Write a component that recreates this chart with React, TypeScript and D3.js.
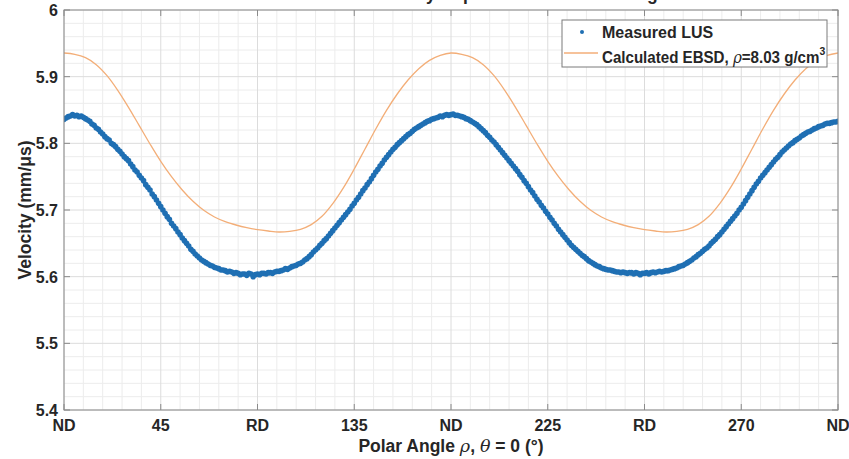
import React, { useEffect, useRef } from "react";
import * as d3 from "d3";

// x axis: polar angle in degrees, labelled like the original figure
const xTicks = [0, 45, 90, 135, 180, 225, 270, 315, 360];
const xTickLabels = ["ND", "45", "RD", "135", "ND", "225", "RD", "270", "ND"];
const yTicks = [5.4, 5.5, 5.6, 5.7, 5.8, 5.9, 6];

// Measured LUS velocity (mm/us), one value per degree from 0 to 360
const measuredStep = 1;
const measuredLUS = [
  5.836, 5.838, 5.840, 5.841, 5.843, 5.841, 5.842, 5.840, 5.841, 5.839,
  5.837, 5.835, 5.833, 5.829, 5.827, 5.823, 5.821, 5.817, 5.814, 5.810,
  5.807, 5.805, 5.800, 5.798, 5.795, 5.791, 5.788, 5.784, 5.780, 5.777,
  5.774, 5.769, 5.765, 5.760, 5.757, 5.752, 5.748, 5.744, 5.738, 5.734,
  5.730, 5.724, 5.720, 5.715, 5.710, 5.705, 5.700, 5.695, 5.690, 5.686,
  5.680, 5.676, 5.672, 5.667, 5.663, 5.658, 5.654, 5.650, 5.646, 5.641,
  5.638, 5.634, 5.631, 5.628, 5.625, 5.623, 5.621, 5.619, 5.617, 5.616,
  5.614, 5.613, 5.612, 5.610, 5.610, 5.609, 5.607, 5.608, 5.607, 5.605,
  5.606, 5.605, 5.603, 5.604, 5.604, 5.602, 5.605, 5.604, 5.600, 5.603,
  5.604, 5.603, 5.605, 5.605, 5.604, 5.606, 5.606, 5.605, 5.607, 5.608,
  5.608, 5.609, 5.610, 5.612, 5.611, 5.613, 5.615, 5.616, 5.617, 5.619,
  5.620, 5.622, 5.625, 5.627, 5.630, 5.633, 5.637, 5.640, 5.643, 5.647,
  5.650, 5.654, 5.657, 5.661, 5.665, 5.669, 5.673, 5.677, 5.681, 5.685,
  5.689, 5.693, 5.697, 5.701, 5.706, 5.710, 5.715, 5.719, 5.724, 5.729,
  5.733, 5.738, 5.742, 5.747, 5.752, 5.757, 5.761, 5.766, 5.770, 5.775,
  5.779, 5.783, 5.787, 5.791, 5.794, 5.798, 5.801, 5.804, 5.807, 5.810,
  5.813, 5.815, 5.818, 5.821, 5.823, 5.825, 5.827, 5.829, 5.831, 5.833,
  5.834, 5.836, 5.837, 5.838, 5.839, 5.841, 5.840, 5.842, 5.843, 5.842,
  5.843, 5.844, 5.842, 5.842, 5.841, 5.840, 5.839, 5.837, 5.836, 5.834,
  5.832, 5.830, 5.828, 5.825, 5.822, 5.819, 5.816, 5.812, 5.809, 5.805,
  5.802, 5.798, 5.794, 5.790, 5.786, 5.782, 5.778, 5.774, 5.770, 5.766,
  5.762, 5.758, 5.753, 5.749, 5.744, 5.740, 5.735, 5.730, 5.726, 5.721,
  5.716, 5.712, 5.707, 5.703, 5.698, 5.694, 5.689, 5.685, 5.680, 5.676,
  5.671, 5.667, 5.663, 5.659, 5.655, 5.651, 5.647, 5.644, 5.641, 5.638,
  5.635, 5.632, 5.630, 5.627, 5.624, 5.622, 5.620, 5.618, 5.616, 5.615,
  5.613, 5.612, 5.611, 5.610, 5.610, 5.609, 5.608, 5.607, 5.607, 5.606,
  5.607, 5.606, 5.605, 5.606, 5.606, 5.604, 5.606, 5.605, 5.603, 5.605,
  5.605, 5.606, 5.604, 5.606, 5.607, 5.606, 5.607, 5.608, 5.607, 5.608,
  5.609, 5.609, 5.610, 5.611, 5.612, 5.613, 5.615, 5.616, 5.617, 5.619,
  5.621, 5.623, 5.625, 5.628, 5.630, 5.633, 5.635, 5.638, 5.641, 5.643,
  5.646, 5.650, 5.653, 5.656, 5.660, 5.663, 5.667, 5.671, 5.675, 5.679,
  5.683, 5.687, 5.691, 5.695, 5.700, 5.704, 5.709, 5.714, 5.719, 5.724,
  5.729, 5.734, 5.739, 5.743, 5.748, 5.752, 5.756, 5.760, 5.764, 5.768,
  5.772, 5.776, 5.779, 5.783, 5.787, 5.790, 5.793, 5.796, 5.799, 5.801,
  5.804, 5.806, 5.808, 5.811, 5.813, 5.815, 5.817, 5.818, 5.820, 5.822,
  5.823, 5.825, 5.826, 5.827, 5.829, 5.830, 5.830, 5.831, 5.832, 5.832,
  5.833,
];

// Calculated EBSD velocity, every 5 degrees from 0 to 360
const ebsdStep = 5;
const calculatedEBSD = [
  5.9355, 5.9335, 5.9285, 5.918, 5.9015, 5.8795, 5.854, 5.8265, 5.799, 5.773,
  5.750, 5.730, 5.713, 5.6995, 5.6895, 5.6825, 5.6775, 5.6735, 5.6705, 5.6685,
  5.667, 5.668, 5.671, 5.678, 5.6905, 5.7095, 5.7335, 5.7615, 5.7915, 5.8215,
  5.8495, 5.874, 5.895, 5.912, 5.9245, 5.932, 5.9355,
  5.9335, 5.9285, 5.918, 5.9015, 5.8795, 5.854, 5.8265, 5.799, 5.773,
  5.750, 5.730, 5.713, 5.6995, 5.6895, 5.6825, 5.6775, 5.6735, 5.6705, 5.6685,
  5.667, 5.668, 5.671, 5.678, 5.6905, 5.7095, 5.7335, 5.7615, 5.7915, 5.8215,
  5.8495, 5.874, 5.895, 5.912, 5.9245, 5.932, 5.9355,
];

const BLUE = "#1f6fb3";
const ORANGE = "#f3ae78";
const TEXT = "#262626";
const FONT = "'Liberation Sans', Arial, sans-serif";
const SERIF = "'DejaVu Serif', serif";

export default function App() {
  const ref = useRef<SVGSVGElement>(null);

  useEffect(() => {
    const W = 849;
    const H = 459;
    const margin = { top: 10, right: 11, bottom: 49, left: 64 };
    const x0 = margin.left, x1 = W - margin.right;
    const y0 = margin.top, y1 = H - margin.bottom;

    const x = d3.scaleLinear().domain([0, 360]).range([x0, x1]);
    const y = d3.scaleLinear().domain([5.4, 6]).range([y1, y0]);

    const svg = d3.select(ref.current);
    svg.selectAll("*").remove();

    svg.append("rect").attr("width", W).attr("height", H).attr("fill", "#fff");

    // title, mostly cut off at the top edge as in the original
    svg.append("text")
      .attr("x", (x0 + x1) / 2 + 70)
      .attr("y", 0)
      .attr("text-anchor", "middle")
      .attr("font-family", FONT)
      .attr("font-weight", "bold")
      .attr("font-size", 17.5)
      .attr("fill", TEXT)
      .text("Velocity Dependence on Polar Angle");

    // grid: minor then major
    const grid = svg.append("g");
    const minorX = d3.range(0, 361, 9).filter(d => d % 45 !== 0);
    const minorY = d3.range(5.4, 6.0001, 0.02).filter(d => Math.abs(d * 10 - Math.round(d * 10)) > 0.01);
    grid.selectAll(".mx").data(minorX).join("line")
      .attr("x1", d => x(d)).attr("x2", d => x(d)).attr("y1", y0).attr("y2", y1)
      .attr("stroke", "#ececec").attr("stroke-width", 1);
    grid.selectAll(".my").data(minorY).join("line")
      .attr("y1", d => y(d)).attr("y2", d => y(d)).attr("x1", x0).attr("x2", x1)
      .attr("stroke", "#ececec").attr("stroke-width", 1);
    grid.selectAll(".gx").data(xTicks).join("line")
      .attr("x1", d => x(d)).attr("x2", d => x(d)).attr("y1", y0).attr("y2", y1)
      .attr("stroke", "#dcdcdc").attr("stroke-width", 1);
    grid.selectAll(".gy").data(yTicks).join("line")
      .attr("y1", d => y(d)).attr("y2", d => y(d)).attr("x1", x0).attr("x2", x1)
      .attr("stroke", "#dcdcdc").attr("stroke-width", 1);

    // data
    svg.append("clipPath").attr("id", "plot-clip")
      .append("rect").attr("x", x0).attr("y", y0).attr("width", x1 - x0).attr("height", y1 - y0);
    const plot = svg.append("g").attr("clip-path", "url(#plot-clip)");

    const line = d3.line<number>()
      .x((_, i) => x(i * ebsdStep))
      .y(d => y(d))
      .curve(d3.curveCatmullRom);
    plot.append("path")
      .datum(calculatedEBSD)
      .attr("d", line)
      .attr("fill", "none")
      .attr("stroke", ORANGE)
      .attr("stroke-width", 1.3);

    plot.selectAll(".pt").data(measuredLUS).join("circle")
      .attr("cx", (_, i) => x(i * measuredStep))
      .attr("cy", d => y(d))
      .attr("r", 2.8)
      .attr("fill", BLUE);

    // axes box with inward ticks on all sides
    const axes = svg.append("g").attr("stroke", "#8a8a8a").attr("stroke-width", 1);
    axes.append("rect")
      .attr("x", x0).attr("y", y0).attr("width", x1 - x0).attr("height", y1 - y0)
      .attr("fill", "none");
    const tl = 6;
    xTicks.forEach(t => {
      axes.append("line").attr("x1", x(t)).attr("x2", x(t)).attr("y1", y1).attr("y2", y1 - tl);
      axes.append("line").attr("x1", x(t)).attr("x2", x(t)).attr("y1", y0).attr("y2", y0 + tl);
    });
    yTicks.forEach(t => {
      axes.append("line").attr("x1", x0).attr("x2", x0 + tl).attr("y1", y(t)).attr("y2", y(t));
      axes.append("line").attr("x1", x1).attr("x2", x1 - tl).attr("y1", y(t)).attr("y2", y(t));
    });

    // tick labels
    svg.append("g").selectAll("text").data(xTicks).join("text")
      .attr("x", d => x(d))
      .attr("y", y1 + 21)
      .attr("text-anchor", "middle")
      .attr("font-family", FONT).attr("font-weight", "bold").attr("font-size", 16)
      .attr("fill", TEXT)
      .text((_, i) => xTickLabels[i]);

    svg.append("g").selectAll("text").data(yTicks).join("text")
      .attr("x", x0 - 6)
      .attr("y", d => y(d) + 6)
      .attr("text-anchor", "end")
      .attr("font-family", FONT).attr("font-weight", "bold").attr("font-size", 16)
      .attr("fill", TEXT)
      .text(d => d3.format("")(+d.toFixed(1)));

    // axis titles
    const xt = svg.append("text")
      .attr("x", (x0 + x1) / 2)
      .attr("y", H - 7)
      .attr("text-anchor", "middle")
      .attr("font-family", FONT).attr("font-weight", "bold").attr("font-size", 17.5)
      .attr("fill", TEXT);
    xt.append("tspan").text("Polar Angle ");
    xt.append("tspan").attr("font-family", SERIF).attr("font-style", "italic").attr("font-weight", "normal").text("ρ");
    xt.append("tspan").text(", ");
    xt.append("tspan").attr("font-family", SERIF).attr("font-style", "italic").attr("font-weight", "normal").text("θ");
    xt.append("tspan").text(" = 0 (°)");

    svg.append("text")
      .attr("transform", `translate(31, ${(y0 + y1) / 2}) rotate(-90)`)
      .attr("text-anchor", "middle")
      .attr("font-family", FONT).attr("font-weight", "bold").attr("font-size", 17.5)
      .attr("fill", TEXT)
      .text("Velocity (mm/μs)");

    // legend
    const lg = svg.append("g");
    lg.append("rect")
      .attr("x", 562).attr("y", 20).attr("width", 265).attr("height", 47)
      .attr("fill", "#fff").attr("stroke", "#7a7a7a").attr("stroke-width", 1);
    lg.append("circle").attr("cx", 582).attr("cy", 32).attr("r", 2).attr("fill", BLUE);
    lg.append("line").attr("x1", 564).attr("x2", 598).attr("y1", 53).attr("y2", 53)
      .attr("stroke", ORANGE).attr("stroke-width", 1.3);
    lg.append("text")
      .attr("x", 602).attr("y", 38)
      .attr("font-family", FONT).attr("font-weight", "bold").attr("font-size", 16)
      .attr("fill", TEXT)
      .text("Measured LUS");
    const l2 = lg.append("text")
      .attr("transform", "translate(602, 63) scale(0.945, 1)")
      .attr("font-family", FONT).attr("font-weight", "bold").attr("font-size", 16)
      .attr("fill", TEXT);
    l2.append("tspan").text("Calculated EBSD, ");
    l2.append("tspan").attr("font-family", SERIF).attr("font-style", "italic").attr("font-weight", "normal").text("ρ");
    l2.append("tspan").text("=8.03 g/cm");
    l2.append("tspan").attr("font-size", 11).attr("dy", -8).text("3");
  }, []);

  return (
    <svg
      ref={ref}
      width={849}
      height={459}
      style={{ position: "absolute", left: 0, top: 0 }}
    />
  );
}
